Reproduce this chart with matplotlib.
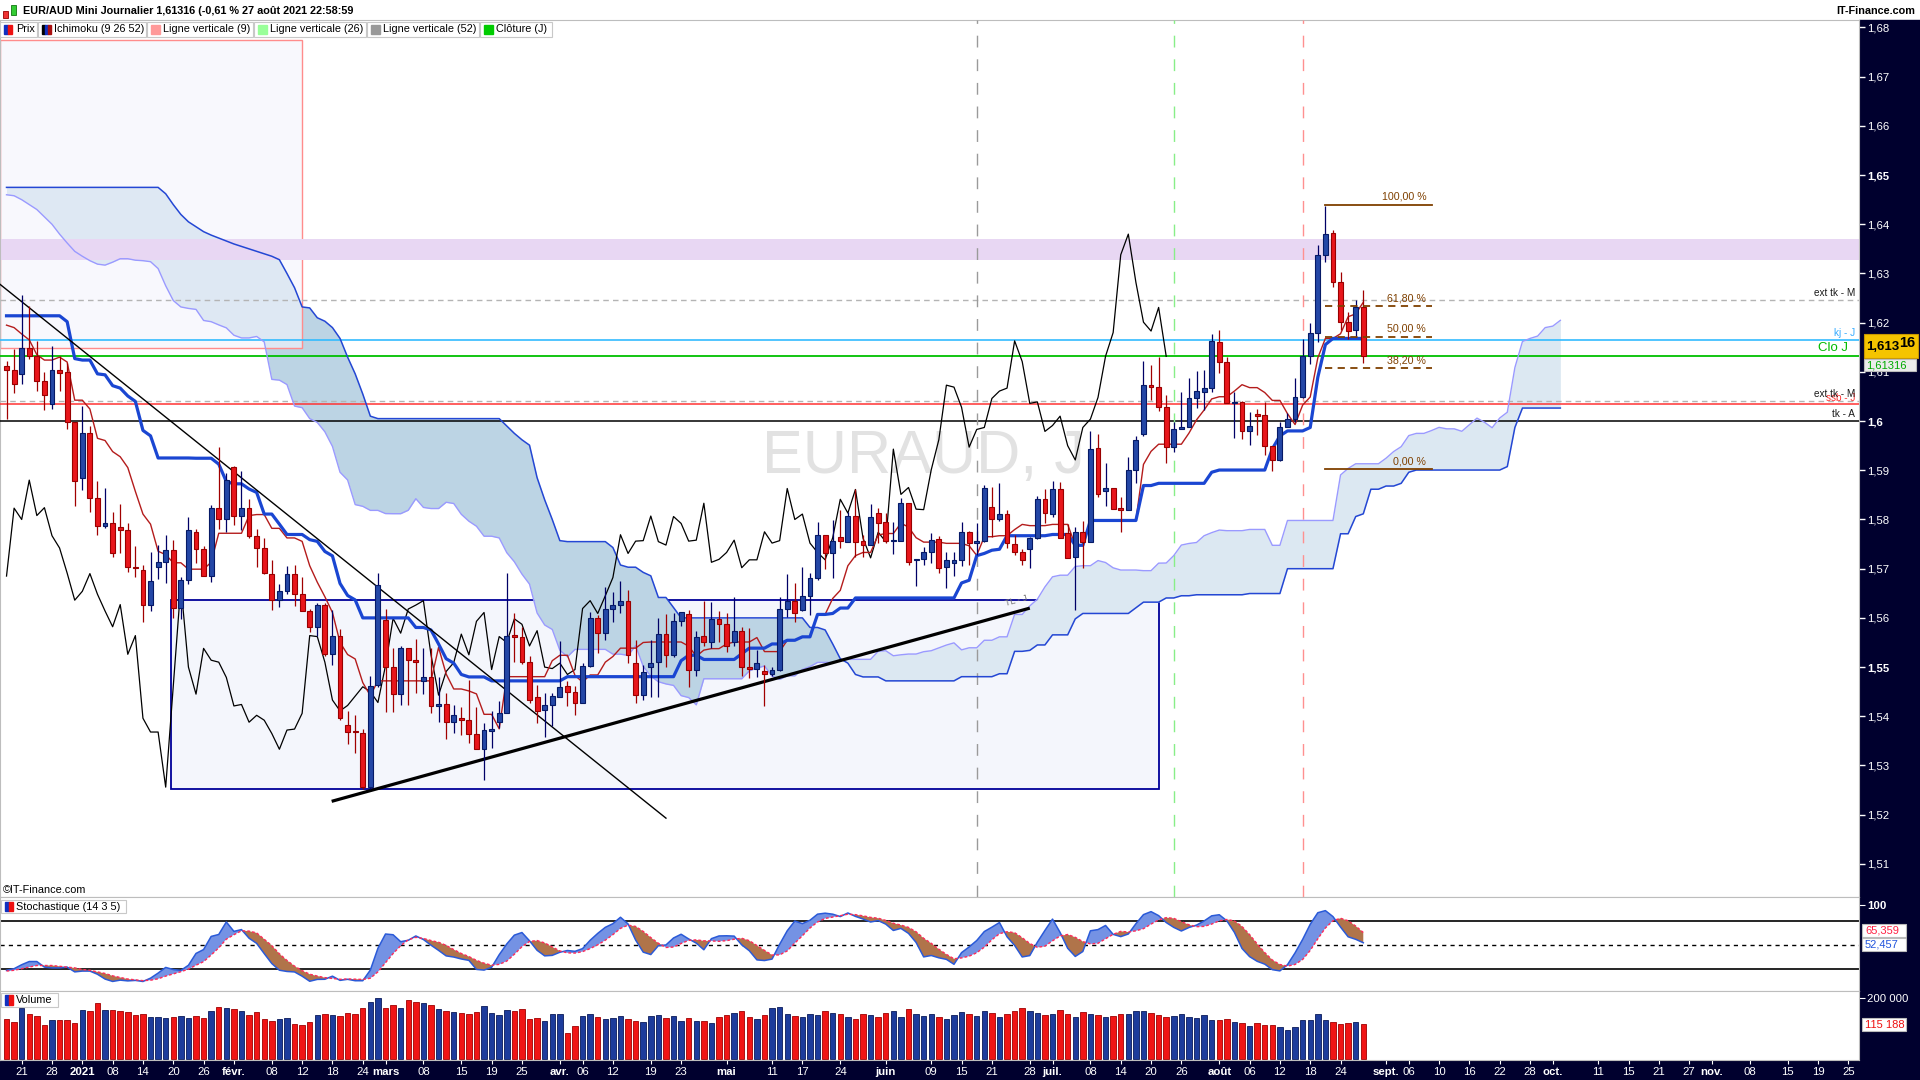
import matplotlib
matplotlib.use("Agg")
import matplotlib.pyplot as plt
from matplotlib.patches import Rectangle
import numpy as np
import pandas as pd

plt.rcParams["font.family"] = ["Liberation Sans", "DejaVu Sans"]

# EUR/AUD daily candles, 17 Dec 2020 -> 27 Aug 2021 (no bar on 25 Dec / 1 Jan)
opens = [1.6111, 1.6103, 1.6095, 1.6148, 1.6132, 1.6082, 1.6035, 1.6104, 1.6100, 1.5998,
         1.5884, 1.5975, 1.5843, 1.5786, 1.5792, 1.5785, 1.5778, 1.5702, 1.5698, 1.5627,
         1.5704, 1.5714, 1.5737, 1.5621, 1.5677, 1.5774, 1.5739, 1.5685, 1.5823, 1.5802,
         1.5907, 1.5808, 1.5824, 1.5767, 1.5742, 1.5690, 1.5636, 1.5654, 1.5690, 1.5648,
         1.5614, 1.5582, 1.5627, 1.5526, 1.5564, 1.5382, 1.5369, 1.5367, 1.5257, 1.5463,
         1.5596, 1.5500, 1.5445, 1.5538, 1.5514, 1.5472, 1.5479, 1.5421, 1.5424, 1.5389,
         1.5396, 1.5392, 1.5365, 1.5333, 1.5371, 1.5388, 1.5406, 1.5565, 1.5561, 1.5510,
         1.5439, 1.5413, 1.5422, 1.5440, 1.5462, 1.5450, 1.5428, 1.5503, 1.5599, 1.5569,
         1.5618, 1.5626, 1.5634, 1.5508, 1.5443, 1.5500, 1.5510, 1.5567, 1.5525, 1.5594,
         1.5607, 1.5495, 1.5563, 1.5550, 1.5597, 1.5587, 1.5552, 1.5574, 1.5500, 1.5497,
         1.5493, 1.5485, 1.5495, 1.5619, 1.5634, 1.5616, 1.5645, 1.5682, 1.5769, 1.5731,
         1.5764, 1.5755, 1.5807, 1.5756, 1.5748, 1.5814, 1.5794, 1.5756, 1.5757, 1.5833,
         1.5718, 1.5719, 1.5733, 1.5760, 1.5703, 1.5711, 1.5718, 1.5775, 1.5752, 1.5757,
         1.5826, 1.5800, 1.5811, 1.5750, 1.5733, 1.5740, 1.5763, 1.5841, 1.5811, 1.5861,
         1.5773, 1.5724, 1.5774, 1.5755, 1.5945, 1.5857, 1.5865, 1.5821, 1.5820, 1.5901,
         1.5974, 1.6073, 1.6069, 1.6028, 1.5947, 1.5983, 1.5987, 1.6046, 1.6060, 1.6067,
         1.6160, 1.6121, 1.6036, 1.6039, 1.5979, 1.6014, 1.6012, 1.5950, 1.5921, 1.5987,
         1.6004, 1.6048, 1.6132, 1.6180, 1.6338, 1.6382, 1.6282, 1.6201, 1.6185, 1.6231]
highs = [1.6122, 1.6146, 1.6257, 1.6233, 1.6162, 1.6100, 1.6153, 1.6132, 1.6118, 1.5998,
         1.6030, 1.5989, 1.5879, 1.5865, 1.5815, 1.5832, 1.5792, 1.5747, 1.5707, 1.5733,
         1.5749, 1.5768, 1.5759, 1.5684, 1.5806, 1.5781, 1.5746, 1.5829, 1.5947, 1.5894,
         1.5908, 1.5898, 1.5841, 1.5781, 1.5763, 1.5717, 1.5669, 1.5705, 1.5707, 1.5684,
         1.5619, 1.5631, 1.5631, 1.5617, 1.5578, 1.5410, 1.5403, 1.5375, 1.5481, 1.5691,
         1.5619, 1.5538, 1.5543, 1.5538, 1.5558, 1.5538, 1.5538, 1.5479, 1.5447, 1.5423,
         1.5418, 1.5474, 1.5418, 1.5386, 1.5411, 1.5431, 1.5691, 1.5609, 1.5582, 1.5523,
         1.5464, 1.5447, 1.5448, 1.5553, 1.5472, 1.5462, 1.5509, 1.5611, 1.5606, 1.5663,
         1.5652, 1.5674, 1.5657, 1.5555, 1.5504, 1.5555, 1.5599, 1.5607, 1.5609, 1.5612,
         1.5616, 1.5574, 1.5635, 1.5633, 1.5615, 1.5609, 1.5643, 1.5582, 1.5579, 1.5535,
         1.5504, 1.5501, 1.5643, 1.5689, 1.5670, 1.5703, 1.5691, 1.5794, 1.5769, 1.5798,
         1.5820, 1.5816, 1.5861, 1.5769, 1.5832, 1.5823, 1.5814, 1.5795, 1.5843, 1.5833,
         1.5719, 1.5745, 1.5773, 1.5767, 1.5733, 1.5733, 1.5794, 1.5777, 1.5792, 1.5870,
         1.5867, 1.5874, 1.5820, 1.5769, 1.5741, 1.5765, 1.5848, 1.5861, 1.5879, 1.5877,
         1.5790, 1.5785, 1.5796, 1.5980, 1.5973, 1.5914, 1.5865, 1.5846, 1.5928, 1.5970,
         1.6122, 1.6114, 1.6131, 1.6054, 1.5999, 1.6060, 1.6087, 1.6102, 1.6104, 1.6176,
         1.6185, 1.6131, 1.6060, 1.6041, 1.6018, 1.6024, 1.6039, 1.5950, 1.5999, 1.6016,
         1.6087, 1.6166, 1.6199, 1.6358, 1.6437, 1.6388, 1.6304, 1.6221, 1.6246, 1.6267]
lows = [1.6005, 1.6057, 1.6076, 1.6127, 1.6062, 1.6023, 1.6025, 1.6062, 1.5983, 1.5828,
        1.5859, 1.5816, 1.5768, 1.5783, 1.5723, 1.5732, 1.5693, 1.5684, 1.5592, 1.5613,
        1.5680, 1.5671, 1.5600, 1.5597, 1.5669, 1.5711, 1.5685, 1.5673, 1.5781, 1.5775,
        1.5788, 1.5778, 1.5763, 1.5704, 1.5689, 1.5617, 1.5623, 1.5648, 1.5625, 1.5613,
        1.5571, 1.5564, 1.5523, 1.5505, 1.5393, 1.5344, 1.5326, 1.5253, 1.5253, 1.5460,
        1.5409, 1.5409, 1.5422, 1.5422, 1.5447, 1.5445, 1.5407, 1.5389, 1.5353, 1.5367,
        1.5362, 1.5345, 1.5333, 1.5270, 1.5335, 1.5376, 1.5406, 1.5511, 1.5506, 1.5426,
        1.5387, 1.5357, 1.5380, 1.5439, 1.5420, 1.5403, 1.5426, 1.5501, 1.5528, 1.5555,
        1.5591, 1.5609, 1.5508, 1.5428, 1.5434, 1.5440, 1.5440, 1.5501, 1.5521, 1.5584,
        1.5459, 1.5482, 1.5542, 1.5539, 1.5552, 1.5531, 1.5543, 1.5481, 1.5477, 1.5479,
        1.5420, 1.5481, 1.5492, 1.5602, 1.5592, 1.5613, 1.5605, 1.5676, 1.5699, 1.5682,
        1.5743, 1.5755, 1.5724, 1.5724, 1.5748, 1.5752, 1.5752, 1.5729, 1.5757, 1.5708,
        1.5665, 1.5708, 1.5711, 1.5692, 1.5660, 1.5685, 1.5706, 1.5708, 1.5727, 1.5755,
        1.5765, 1.5796, 1.5742, 1.5728, 1.5708, 1.5701, 1.5760, 1.5792, 1.5806, 1.5762,
        1.5721, 1.5616, 1.5702, 1.5755, 1.5846, 1.5828, 1.5821, 1.5775, 1.5820, 1.5874,
        1.5970, 1.6043, 1.6020, 1.5914, 1.5937, 1.5983, 1.5987, 1.6027, 1.6023, 1.6060,
        1.6097, 1.6036, 1.5966, 1.5963, 1.5951, 1.5972, 1.5931, 1.5899, 1.5918, 1.5987,
        1.5999, 1.6046, 1.6117, 1.6161, 1.6324, 1.6272, 1.6185, 1.6167, 1.6170, 1.6119]
closes = [1.6103, 1.6076, 1.6148, 1.6132, 1.6082, 1.6052, 1.6104, 1.6098, 1.5998, 1.5879,
          1.5975, 1.5843, 1.5786, 1.5792, 1.5732, 1.5778, 1.5704, 1.5701, 1.5627, 1.5674,
          1.5714, 1.5737, 1.5621, 1.5677, 1.5778, 1.5739, 1.5685, 1.5823, 1.5800, 1.5880,
          1.5808, 1.5824, 1.5767, 1.5742, 1.5691, 1.5636, 1.5654, 1.5690, 1.5648, 1.5614,
          1.5582, 1.5627, 1.5526, 1.5564, 1.5396, 1.5368, 1.5368, 1.5256, 1.5462, 1.5667,
          1.5500, 1.5445, 1.5538, 1.5514, 1.5510, 1.5479, 1.5421, 1.5424, 1.5388, 1.5402,
          1.5392, 1.5365, 1.5333, 1.5372, 1.5374, 1.5406, 1.5564, 1.5562, 1.5510, 1.5433,
          1.5411, 1.5422, 1.5441, 1.5460, 1.5450, 1.5428, 1.5503, 1.5599, 1.5569, 1.5618,
          1.5626, 1.5635, 1.5525, 1.5443, 1.5491, 1.5509, 1.5567, 1.5525, 1.5593, 1.5611,
          1.5495, 1.5562, 1.5550, 1.5598, 1.5587, 1.5543, 1.5574, 1.5500, 1.5497, 1.5508,
          1.5485, 1.5495, 1.5619, 1.5635, 1.5609, 1.5645, 1.5682, 1.5769, 1.5731, 1.5756,
          1.5757, 1.5807, 1.5755, 1.5748, 1.5806, 1.5792, 1.5756, 1.5758, 1.5833, 1.5713,
          1.5719, 1.5733, 1.5758, 1.5702, 1.5718, 1.5718, 1.5775, 1.5752, 1.5757, 1.5863,
          1.5800, 1.5811, 1.5752, 1.5733, 1.5718, 1.5763, 1.5841, 1.5813, 1.5861, 1.5762,
          1.5722, 1.5774, 1.5755, 1.5943, 1.5851, 1.5865, 1.5821, 1.5820, 1.5901, 1.5962,
          1.6073, 1.6069, 1.6028, 1.5947, 1.5983, 1.5987, 1.6046, 1.6061, 1.6067, 1.6163,
          1.6121, 1.6036, 1.6039, 1.5979, 1.5991, 1.6010, 1.5950, 1.5921, 1.5987, 1.6004,
          1.6048, 1.6132, 1.6180, 1.6338, 1.6380, 1.6282, 1.6201, 1.6183, 1.6231, 1.61316]
volumes = [132, 123, 167, 149, 142, 112, 129, 129, 129, 118,
           162, 158, 184, 162, 162, 158, 154, 145, 149, 140,
           140, 136, 140, 142, 136, 142, 136, 158, 172, 168,
           165, 158, 145, 154, 132, 125, 132, 136, 116, 112,
           122, 145, 149, 145, 142, 152, 149, 168, 187, 200,
           168, 178, 168, 195, 187, 185, 178, 165, 158, 155,
           152, 149, 155, 174, 152, 145, 162, 158, 165, 132,
           135, 125, 149, 149, 86, 109, 142, 149, 139, 132,
           135, 142, 132, 125, 122, 142, 145, 136, 142, 125,
           136, 125, 125, 118, 140, 145, 152, 160, 138, 132,
           145, 168, 172, 150, 142, 138, 150, 145, 160, 152,
           148, 140, 132, 150, 145, 138, 152, 158, 140, 165,
           148, 142, 150, 138, 132, 145, 155, 148, 142, 160,
           152, 140, 150, 158, 168, 160, 152, 145, 150, 162,
           148, 140, 155, 150, 145, 138, 142, 148, 150, 158,
           160, 152, 145, 138, 142, 150, 140, 135, 145, 130,
           129, 131, 121, 118, 109, 118, 111, 111, 105, 95,
           105, 128, 128, 147, 128, 121, 114, 118, 121, 115.188]  # thousands

# indicator values read off the chart where the history is not shown
tenkan_start = [1.6195, 1.6190, 1.6177, 1.6165, 1.6135, 1.6124, 1.6124, 1.6130]
kijun_start = [1.6214] * 8 + [1.6202, 1.6127, 1.6124, 1.6124, 1.6096, 1.6094, 1.6072,
                              1.6067, 1.6051, 1.6040, 1.5981, 1.5970] + [1.5925] * 5
ssa_start = [1.6460, 1.6458, 1.6450, 1.6440, 1.6430, 1.6415, 1.6400, 1.6380, 1.6362, 1.6345,
             1.6335, 1.6326, 1.6319, 1.6317, 1.6323, 1.6330, 1.6330, 1.6327, 1.6326, 1.6324,
             1.6310, 1.6275, 1.6245, 1.6232, 1.6229, 1.6227]
ssb_start = ([1.6475] * 21 +
             [1.6462, 1.6440, 1.6420, 1.6405, 1.6395, 1.6385, 1.6378, 1.6372, 1.6366, 1.6360,
              1.6355, 1.6350, 1.6345, 1.6340, 1.6335, 1.6328, 1.6300, 1.6271, 1.6232, 1.6230,
              1.6210, 1.6203, 1.6190, 1.6168, 1.6130, 1.6096, 1.6055, 1.6010] +
             [1.6005] * 17 +
             [1.5990, 1.5975, 1.5962, 1.5951, 1.5885, 1.5840, 1.5800, 1.5757, 1.5755, 1.5755, 1.5755])
stoch_k_start = [18, 20, 25, 29, 29, 22, 21, 21, 22, 16, 17, 17, 13, 7, 4]
stoch_d_start = [17, 18, 20, 22, 24, 24, 24, 23, 22, 21, 19, 18, 16, 14, 11, 9, 7, 6, 5]

# horizontal levels drawn on the chart
level_ext_tk_1 = 1.6246
level_kj = 1.6164
level_clo = 1.61316
level_ext_tk_2 = 1.6040
level_ssb = 1.6034
level_tk = 1.6000
fib_levels = [1.6440, 1.6234, 1.6171, 1.6107, 1.5902]
fib_labels = ["100,00 %", "61,80 %", "50,00 %", "38,20 %", "0,00 %"]

tick_dates = ["2020-12-21", "2020-12-28", "2021-01-04", "2021-01-08", "2021-01-14", "2021-01-20",
              "2021-01-26", "2021-02-01", "2021-02-08", "2021-02-12", "2021-02-18", "2021-02-24",
              "2021-03-01", "2021-03-08", "2021-03-15", "2021-03-19", "2021-03-25", "2021-04-01",
              "2021-04-06", "2021-04-12", "2021-04-19", "2021-04-23", "2021-05-03", "2021-05-11",
              "2021-05-17", "2021-05-24", "2021-06-01", "2021-06-09", "2021-06-15", "2021-06-21",
              "2021-06-28", "2021-07-01", "2021-07-08", "2021-07-14", "2021-07-20", "2021-07-26",
              "2021-08-02", "2021-08-06", "2021-08-12", "2021-08-18", "2021-08-24", "2021-09-01",
              "2021-09-06", "2021-09-10", "2021-09-16", "2021-09-22", "2021-09-28", "2021-10-01",
              "2021-10-11", "2021-10-15", "2021-10-21", "2021-10-27", "2021-11-01", "2021-11-08",
              "2021-11-15", "2021-11-19", "2021-11-25"]
tick_labels = ["21", "28", "2021", "08", "14", "20", "26", "févr.", "08", "12", "18", "24",
               "mars", "08", "15", "19", "25", "avr.", "06", "12", "19", "23", "mai", "11",
               "17", "24", "juin", "09", "15", "21", "28", "juil.", "08", "14", "20", "26",
               "août", "06", "12", "18", "24", "sept.", "06", "10", "16", "22", "28", "oct.",
               "11", "15", "21", "27", "nov.", "08", "15", "19", "25"]
bold_labels = {"2021", "févr.", "mars", "avr.", "mai", "juin", "juil.", "août", "sept.", "oct.", "nov."}

# ---------------------------------------------------------------- indicators
o, h, l, c = (np.array(v, dtype=float) for v in (opens, highs, lows, closes))
vol = np.array(volumes) * 1000
n = len(c)
x = np.arange(n)
up = c >= o
hi, lo, cl = pd.Series(h), pd.Series(l), pd.Series(c)

tenkan = ((hi.rolling(9).max() + lo.rolling(9).min()) / 2).to_numpy()
tenkan[:8] = tenkan_start
kijun = ((hi.rolling(26).max() + lo.rolling(26).min()) / 2).to_numpy()
kijun[:25] = kijun_start
xc = np.arange(n + 26)
ssa = np.empty(n + 26)
ssa[:26] = ssa_start
ssa[26:] = (tenkan + kijun) / 2
ssb = np.empty(n + 26)
ssb[26:] = ((hi.rolling(52).max() + lo.rolling(52).min()) / 2).to_numpy()
ssb[:77] = ssb_start

raw = 100 * (cl - lo.rolling(14).min()) / (hi.rolling(14).max() - lo.rolling(14).min())
stk = raw.rolling(3).mean().to_numpy()
stk[:15] = stoch_k_start
std = pd.Series(stk).rolling(5).mean().to_numpy()
std[:19] = stoch_d_start

dates = pd.bdate_range("2020-12-17", "2021-12-31")
dates = dates[~dates.isin(pd.to_datetime(["2020-12-25", "2021-01-01"]))]
tick_pos = [dates.get_loc(pd.Timestamp(d)) for d in tick_dates]

# ---------------------------------------------------------------- figure
W, H = 1920, 1080
fig = plt.figure(figsize=(19.2, 10.8), dpi=100)
NAVY = "#00002e"


def px_rect(x0, y0, x1, y1, **kw):
    fig.add_artist(Rectangle((x0 / W, 1 - y1 / H), (x1 - x0) / W, (y1 - y0) / H,
                             transform=fig.transFigure, **kw))


def px_text(xp, yp, s, **kw):
    kw.setdefault("zorder", 8)
    fig.text(xp / W, 1 - yp / H, s, **kw)


px_rect(1859, 20, 1920, 1080, color=NAVY, zorder=-2)
px_rect(0, 1060, 1920, 1080, color=NAVY, zorder=-2)

ax = fig.add_axes([0, 1 - 897 / H, 1859 / W, 877 / H])
ax_st = fig.add_axes([0, 1 - 991 / H, 1859 / W, 94 / H], sharex=ax)
ax_v = fig.add_axes([0, 1 - 1060 / H, 1859 / W, 69 / H], sharex=ax)
for a in (ax, ax_st, ax_v):
    for s in a.spines.values():
        s.set_color("#bdbdbd")
ax.set_xlim(-0.86, 244.4)
ax.set_ylim(1.50327, 1.68152)

# background objects
ax.text(120.9, 1.5925, "EURAUD, J", fontsize=44, color="#e2e2e2", ha="center", va="center", zorder=0.5)
ax.add_patch(Rectangle((21.7, 1.5252), 152.1 - 21.7, 1.5636 - 1.5252, facecolor="#f4f6fc",
                       edgecolor="#000099", lw=1.3, zorder=1))
ax.fill_between(xc, ssa, ssb, where=ssa >= ssb, interpolate=True, color="#dce8f2", lw=0, zorder=1.5)
ax.fill_between(xc, ssa, ssb, where=ssa < ssb, interpolate=True, color="#bcd4e4", lw=0, zorder=1.5)
ax.add_patch(Rectangle((-0.86, 1.6148), 39.0 + 0.86, 1.6775 - 1.6148, facecolor="#f4f5fd",
                       alpha=0.62, edgecolor="none", zorder=2))
ax.add_patch(Rectangle((-0.86, 1.6148), 39.0 + 0.86, 1.6775 - 1.6148, facecolor="none",
                       edgecolor="#ff8c8c", lw=1, zorder=2))
ax.axhspan(1.6327, 1.6370, color="#e8d7f3", lw=0, zorder=2.5)

# horizontal levels
ax.axhline(level_ext_tk_1, color="#b4b4b4", lw=1, dashes=(4, 3), zorder=3)
ax.axhline(level_ext_tk_2, color="#b4b4b4", lw=1, dashes=(4, 3), zorder=3)
ax.axhline(level_kj, color="#33bbff", lw=1.2, zorder=3)
ax.axhline(level_clo, color="#00c000", lw=1.3, zorder=3)
ax.axhline(level_ssb, color="#ff3333", lw=1.1, zorder=3)
ax.axhline(level_tk, color="black", lw=1.1, zorder=3)
ytr = ax.get_yaxis_transform()
lab = dict(transform=ytr, ha="right", va="bottom", fontsize=7.2, zorder=7)
ax.text(0.9978, level_ext_tk_1 + 0.0005, "ext tk - M", color="#1a1a1a", **lab)
ax.text(0.9978, level_kj + 0.0005, "kj - J", color="#33aaff", **lab)
ax.text(0.9941, level_clo + 0.0004, "Clo J", color="#00bb00", transform=ytr, ha="right",
        va="bottom", fontsize=9.5, zorder=7)
ax.text(0.9978, level_ssb + 0.0002, "ssb - J", color="#ff3333", **lab)
ax.text(0.9978, level_ext_tk_2 + 0.0005, "ext tk - M", color="#1a1a1a", **lab)
ax.text(0.9978, level_tk + 0.0005, "tk - A", color="#1a1a1a", **lab)

# vertical period lines (52, 26, 9 bars)
for xv, col in ((n - 52, "#9a9a9a"), (n - 26, "#88ee88"), (n - 9, "#ff9090")):
    ax.axvline(xv, color=col, lw=1, dashes=(8.5, 8.5), zorder=3)

# ichimoku lines
ax.plot(xc, ssa, color="#9a9aff", lw=1.0, zorder=3.5)
ax.plot(xc, ssb, color="#2447d4", lw=1.1, zorder=3.5)
ax.plot(x[26:] - 26, c[26:], color="black", lw=0.9, zorder=4)
ax.plot(x, tenkan, color="#b41c1c", lw=1.0, zorder=4.2)
ax.plot(x, kijun, color="#1a46d2", lw=2.3, zorder=4.4)

# trend lines
ax.plot([-0.86, 87.0], [1.6278, 1.5193], color="black", lw=1.0, zorder=4.6)
ax.plot([43.1, 134.8], [1.5228, 1.5619], color="black", lw=2.3, zorder=4.6)
ax.text(133.2, 1.5634, "TL - J", fontsize=6.5, color="#777777", rotation=15,
        ha="center", va="center", zorder=7)

# candles
ax.vlines(x, l, h, colors=np.where(up, "#000066", "#a00000"), lw=0.9, zorder=5)
body = np.maximum(np.abs(c - o), 0.00025)
ax.bar(x, body, bottom=np.minimum(o, c), width=0.64,
       color=np.where(up, "#2447a6", "#e8161b"),
       edgecolor=np.where(up, "#061a66", "#990000"), lw=0.8, zorder=6)

# fibonacci retracement
for lev, txt, solid in zip(fib_levels, fib_labels, (True, False, False, False, True)):
    if solid:
        ax.plot([173.9, 188.1], [lev, lev], color="#7f4000", lw=1.3, zorder=6.5)
    else:
        ax.plot([173.9, 188.1], [lev, lev], color="#7f4000", lw=1.3, dashes=(4, 3), zorder=6.5)
    ax.text(187.3, lev + 0.0006, txt, color="#7f4000", fontsize=7.7, ha="right", va="bottom", zorder=7)

# price axis
ax.yaxis.tick_right()
yt = np.round(np.arange(1.51, 1.6801, 0.01), 2)
ax.set_yticks(yt)
ax.set_yticklabels([f"{v:.2f}".rstrip("0").replace(".", ",") for v in yt])
for v, t in zip(yt, ax.get_yticklabels()):
    if round(v * 100) % 5 == 0:
        t.set_fontweight("bold")
ax.tick_params(axis="y", colors="white", length=4, width=1, labelsize=8.2, pad=2)
ax.tick_params(axis="x", bottom=False, labelbottom=False)

# stochastic panel
ax_st.set_ylim(-8, 110)
ax_st.fill_between(x, stk, std, where=stk >= std, interpolate=True, color="#7492e4", lw=0, zorder=2)
ax_st.fill_between(x, stk, std, where=stk < std, interpolate=True, color="#b0744a", lw=0, zorder=2)
ax_st.plot(x, stk, color="#2a5ad8", lw=1.1, zorder=3)
ax_st.plot(x, std, color="#ff2a5a", lw=1.0, dashes=(2, 1.5), zorder=3)
ax_st.axhline(80, color="black", lw=1.2, zorder=1)
ax_st.axhline(20, color="black", lw=1.2, zorder=1)
ax_st.axhline(50, color="black", lw=1.0, dashes=(3, 3), zorder=1)
ax_st.yaxis.tick_right()
ax_st.set_yticks([100])
ax_st.set_yticklabels(["100"], fontweight="bold")
ax_st.tick_params(axis="y", colors="white", length=4, labelsize=8.2, pad=2)
ax_st.tick_params(axis="x", bottom=False, labelbottom=False)

# volume panel
ax_v.set_ylim(-3300, 224400)
ax_v.bar(x, vol, width=0.72, color=np.where(up, "#1d3c9c", "#f01515"),
         edgecolor=np.where(up, "#0a1a5a", "#a00000"), lw=0.6)
ax_v.yaxis.tick_right()
ax_v.set_yticks([200000])
ax_v.set_yticklabels(["200 000"])
ax_v.tick_params(axis="y", colors="white", length=4, labelsize=8.2, pad=2)
ax_v.set_xticks(tick_pos)
ax_v.set_xticklabels(tick_labels)
for t in ax_v.get_xticklabels():
    if t.get_text() in bold_labels:
        t.set_fontweight("bold")
ax_v.tick_params(axis="x", colors="white", length=3, labelsize=8.2, pad=2)
ax_v.set_xlim(-0.86, 244.4)

# ---------------------------------------------------------------- header and tags
px_rect(3, 11, 8, 18, facecolor="#ee3333", edgecolor="#990000", lw=0.6, zorder=5)
px_rect(11, 5, 16, 15, facecolor="#33cc33", edgecolor="#117711", lw=0.6, zorder=5)
px_text(23, 11, "EUR/AUD Mini Journalier 1,61316 (-0,61 % 27 août 2021 22:58:59",
        fontsize=7.8, fontweight="bold", va="center")
px_text(1915, 11, "IT-Finance.com", fontsize=7.8, fontweight="bold", va="center", ha="right")

legend_items = [(0, 37, "Prix", None), (38, 146, "Ichimoku (9 26 52)", None),
                (147, 253, "Ligne verticale (9)", "#ff9999"),
                (254, 366, "Ligne verticale (26)", "#99ff99"),
                (367, 479, "Ligne verticale (52)", "#999999"),
                (480, 552, "Clôture (J)", "#00cc00")]
for x0, x1, txt, col in legend_items:
    px_rect(x0, 22, x1, 37, facecolor="white", edgecolor="#c8c8c8", lw=0.8, zorder=4)
    if txt == "Prix":
        px_rect(4, 25, 8, 34, color="#1030c0", zorder=5)
        px_rect(8, 25, 12, 34, color="#ee1111", zorder=5)
    elif txt.startswith("Ichimoku"):
        px_rect(x0 + 4, 25, x0 + 7, 34, color="black", zorder=5)
        px_rect(x0 + 7, 25, x0 + 10, 34, color="#1030c0", zorder=5)
        px_rect(x0 + 10, 25, x0 + 13, 34, color="#aa1111", zorder=5)
    else:
        px_rect(x0 + 4, 25, x0 + 13, 34, color=col, zorder=5)
    px_text(x0 + 16, 29.5, txt, fontsize=7.8, va="center")

px_text(3, 890, "©IT-Finance.com", fontsize=7.8, va="center")
for x0, x1, y0, y1, txt in ((1, 126, 900, 913, "Stochastique (14 3 5)"), (1, 58, 993, 1007, "Volume")):
    px_rect(x0, y0, x1, y1, facecolor="white", edgecolor="#c8c8c8", lw=0.8, zorder=4)
    px_rect(x0 + 4, y0 + 2, x0 + 8, y1 - 2, color="#1030c0", zorder=5)
    px_rect(x0 + 8, y0 + 2, x0 + 12, y1 - 2, color="#ee1111", zorder=5)
    px_text(x0 + 15, (y0 + y1) / 2, txt, fontsize=7.8, va="center")

# last price tag
px_rect(1864, 334, 1918, 358, facecolor="#f5c400", edgecolor="#c89800", lw=0.8, zorder=5)
px_text(1866, 347, "1,613", fontsize=9.5, fontweight="bold", va="center")
px_text(1899, 343, "16", fontsize=10.5, fontweight="bold", va="center")
px_rect(1864, 359, 1916, 371, facecolor="#ececec", edgecolor="#bbbbbb", lw=0.8, zorder=5)
px_text(1866, 365, "1,61316", fontsize=8, color="#00aa00", va="center")

for y0, y1, txt, col in ((924, 937, "65,359", "#ff2244"), (938, 951, "52,457", "#2255dd"),
                         (1018, 1031, "115 188", "#ee1111")):
    px_rect(1862, y0, 1906, y1, facecolor="white", edgecolor="#bbbbbb", lw=0.8, zorder=5)
    px_text(1865, (y0 + y1) / 2, txt, fontsize=8, color=col, va="center")

fig.savefig("out.png", dpi=100, facecolor="white")
